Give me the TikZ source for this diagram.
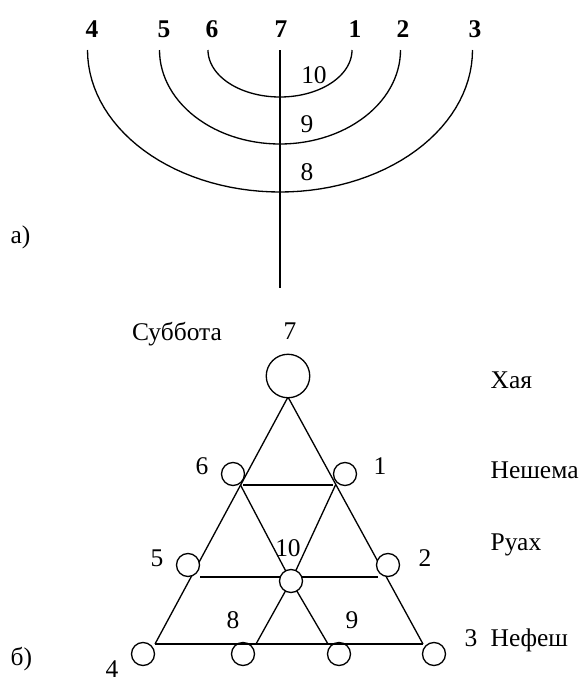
\documentclass[tikz,border=0pt]{standalone}
\usepackage{fontspec}
\setmainfont{Liberation Serif}
\tikzset{
  lab/.style={anchor=base,inner sep=0pt},
  toplab/.style={lab,font=\fontsize{14.5}{16}\selectfont\bfseries},
  ring/.style={circle,draw,fill=white,inner sep=0pt,minimum size=0.46cm},
  bigring/.style={ring,minimum size=0.87cm}
}
\begin{document}
\begin{tikzpicture}[x=0.02cm,y=-0.02cm,line width=0.75pt,
  font=\fontsize{14.5}{16}\selectfont]
\useasboundingbox (0,0) rectangle (584,681);
% a) the candlestick: seven branch tops and the stem
\foreach \n/\xx in {4/92,5/164,6/212,7/281,1/355,2/403,3/475}
  \node[toplab] (t\n) at (\xx,37) {\n};
\coordinate (stemtop) at (280,50);
\coordinate (stembot) at (280,288);
\draw (stemtop) -- (stembot);
% three half ellipses hanging from the top line
\foreach \rx/\ry in {72/47,120.5/94,192.5/142}
  \draw plot[domain=180:360,samples=61] ({280+\rx*cos(\x)},{50-\ry*sin(\x)});
\node[lab] (a10) at (314,83) {10};
\node[lab] (a9) at (307,132) {9};
\node[lab] (a8) at (307,180) {8};
\node[lab,anchor=base west] (parta) at (10,243) {а)};
% b) the triangle
\coordinate (apex) at (288,397);
\coordinate (bl) at (155,644);
\coordinate (br) at (423,644);
\coordinate (l1) at (240.5,485);
\coordinate (r1) at (335.5,485);
\coordinate (h1l) at (243,485);
\coordinate (h1r) at (333,485);
\coordinate (h2l) at (200,577);
\coordinate (h2r) at (378,577);
\coordinate (d1) at (256,644);
\coordinate (d2) at (328,644);
\draw (bl) -- (apex) -- (br);
\draw (h1l) -- (h1r);
\draw (h2l) -- (h2r);
\draw (l1) -- (291,581) (r1) -- (291,581);
\draw (291,581) -- (d1) (291,581) -- (d2);
% circles on top of the lines
\node[bigring] (c7) at (288,376) {};
\node[ring] (c6) at (233,474) {};
\node[ring] (c1) at (345,474) {};
\node[ring] (c5) at (188,565) {};
\node[ring] (c2) at (388,565) {};
\node[ring] (c10) at (291,581) {};
\node[ring] (c4) at (143,654) {};
\node[ring] (c8) at (243,654) {};
\node[ring] (c9) at (339,654) {};
\node[ring] (c3) at (434,654) {};
\draw (bl) -- (br);
% labels
\node[lab] (sabbath) at (177,340) {Суббота};
\node[lab] (n7) at (290,339) {7};
\node[lab] (n6) at (202,474) {6};
\node[lab] (n1) at (380,474) {1};
\node[lab] (n5) at (157,566) {5};
\node[lab] (n2) at (425,566) {2};
\node[lab] (n10) at (288,556) {10};
\node[lab] (n8) at (233,628) {8};
\node[lab] (n9) at (352,628) {9};
\node[lab] (n4) at (112,677) {4};
\node[lab] (n3) at (471,646) {3};
\node[lab,anchor=base west] (haya) at (490,388) {Хая};
\node[lab,anchor=base west] (neshama) at (490,478) {Нешема};
\node[lab,anchor=base west] (ruah) at (490,550) {Руах};
\node[lab,anchor=base west] (nefesh) at (490,646) {Нефеш};
\node[lab,anchor=base west] (partb) at (10,665) {б)};
\end{tikzpicture}
\end{document}
